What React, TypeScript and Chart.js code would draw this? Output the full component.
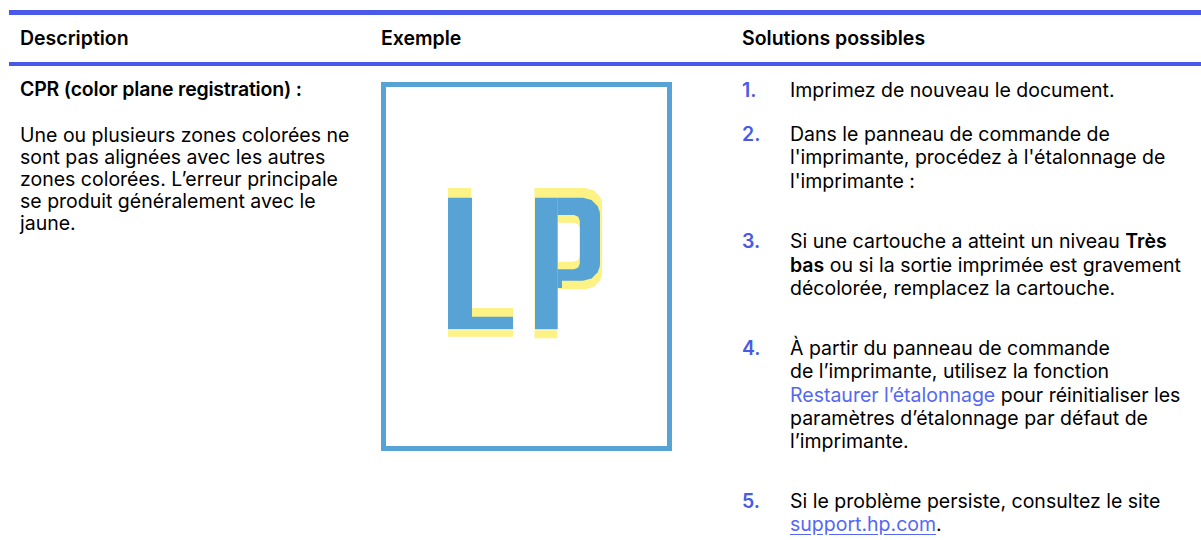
import React, { useEffect, useRef } from "react";
import { Chart, registerables } from "chart.js";

Chart.register(...registerables);

// ---------- colours ----------
const HP_BLUE = "#4a5ae8";
const LINK_BLUE = "#5468f2";
const FRAME_BLUE = "#57a3d5";
const INK_BLUE = "#57a3d5";
const INK_YELLOW = "#fdf285";

// ---------- table text ----------
const HEADER_LABELS = ["Description", "Exemple", "Solutions possibles"];
const ISSUE_TITLE = "CPR (color plane registration) :";
const ISSUE_LINES = [
  "Une ou plusieurs zones colorées ne",
  "sont pas alignées avec les autres",
  "zones colorées. L’erreur principale",
  "se produit généralement avec le",
  "jaune.",
];
type Seg = [string, "" | "b" | "link" | "u"];
const STEP_NUMBERS = ["1.", "2.", "3.", "4.", "5."];
const STEP_1: Seg[][] = [[["Imprimez de nouveau le document.", ""]]];
const STEP_2: Seg[][] = [
  [["Dans le panneau de commande de", ""]],
  [["l'imprimante, procédez à l'étalonnage de", ""]],
  [["l'imprimante :", ""]],
];
const STEP_3: Seg[][] = [
  [["Si une cartouche a atteint un niveau ", ""], ["Très", "b"]],
  [["bas", "b"], [" ou si la sortie imprimée est gravement", ""]],
  [["décolorée, remplacez la cartouche.", ""]],
];
const STEP_4: Seg[][] = [
  [["À partir du panneau de commande", ""]],
  [["de l’imprimante, utilisez la fonction", ""]],
  [["Restaurer l’étalonnage", "link"], [" pour réinitialiser les", ""]],
  [["paramètres d’étalonnage par défaut de", ""]],
  [["l’imprimante.", ""]],
];
const STEP_5: Seg[][] = [
  [["Si le problème persiste, consultez le site", ""]],
  [["support.hp.com", "u"], [".", ""]],
];
const STEPS = [STEP_1, STEP_2, STEP_3, STEP_4, STEP_5];

// ---------- example picture data (units of the example's own axes) ----------
const AXIS_X_MAX = 291;
const AXIS_Y_MAX = 369;

const FRAME_X = [2.5, 288.5, 288.5, 2.5, 2.5];
const FRAME_Y = [2.5, 2.5, 366.5, 366.5, 2.5];

// Letter "L" — yellow plane
const L_YEL_X = [67, 90, 90.01, 132];
const L_YEL_TOP = [106, 106, 226, 226];
const L_YEL_BOT = [247, 247, 247, 247];
const L_YEL_FOOT_X = [67, 132];
const L_YEL_FOOT_TOP = [248.3, 248.3];
const L_YEL_FOOT_BOT = [254.7, 254.7];
// Letter "L" — blue plane
const L_BLU_X = [67, 91, 91.01, 132];
const L_BLU_TOP = [115.7, 115.7, 234.7, 234.7];
const L_BLU_BOT = [247.2, 247.2, 247.2, 247.2];

// Letter "P" — yellow plane
const P_YEL_STEM_X = [153.3, 177];
const P_YEL_STEM_TOP = [106, 106];
const P_YEL_STEM_BOT = [247.2, 247.2];
const P_YEL_FOOT_X = [153.3, 176.5];
const P_YEL_FOOT_TOP = [248.3, 248.3];
const P_YEL_FOOT_BOT = [256.3, 256.3];
const P_YEL_UP_X = [176.5, 193, 197.2, 199.2];
const P_YEL_UP_TOP = [106, 106, 106, 106];
const P_YEL_UP_BOT = [140.7, 140.7, 142.5, 146.7];
const P_YEL_LOW_X = [176.5, 193, 197.2, 199.2];
const P_YEL_LOW_TOP = [179.7, 179.7, 177.9, 173.7];
const P_YEL_LOW_BOT = [207.3, 207.3, 207.3, 207.3];
const P_YEL_BOWL_X = [198.8, 204.3, 212.8, 219, 221, 221.3];
const P_YEL_BOWL_TOP = [106, 106, 108.3, 114.5, 120, 123];
const P_YEL_BOWL_BOT = [207.3, 207.3, 205, 198.8, 193.3, 190.3];

// Letter "P" — blue plane
const P_BLU_STEM_X = [154, 176.8];
const P_BLU_STEM_TOP = [115.7, 115.7];
const P_BLU_STEM_BOT = [247.2, 247.2];
const P_BLU_UP_X = [176.3, 193, 197.2, 199];
const P_BLU_UP_TOP = [115.7, 115.7, 115.7, 115.7];
const P_BLU_UP_BOT = [133, 133, 134.8, 139];
const P_BLU_LOW_X = [176.3, 181, 181.01, 193, 197.2, 199];
const P_BLU_LOW_TOP = [187.3, 187.3, 187.3, 187.3, 185.5, 181.3];
const P_BLU_LOW_BOT = [206, 206, 198.7, 198.7, 198.7, 198.7];
const P_BLU_BOWL_X = [198.6, 202, 210.5, 216.7, 218.7, 219];
const P_BLU_BOWL_TOP = [115.7, 115.7, 118, 124.2, 129.7, 132.7];
const P_BLU_BOWL_BOT = [198.7, 198.7, 196.4, 190.2, 184.7, 181.7];

type Shape = { xs: number[]; top: number[]; bot: number[]; color: string; layer: number };

const SHAPES: Shape[] = [
  { xs: L_YEL_X, top: L_YEL_TOP, bot: L_YEL_BOT, color: INK_YELLOW, layer: 3 },
  { xs: L_YEL_FOOT_X, top: L_YEL_FOOT_TOP, bot: L_YEL_FOOT_BOT, color: INK_YELLOW, layer: 3 },
  { xs: P_YEL_STEM_X, top: P_YEL_STEM_TOP, bot: P_YEL_STEM_BOT, color: INK_YELLOW, layer: 3 },
  { xs: P_YEL_FOOT_X, top: P_YEL_FOOT_TOP, bot: P_YEL_FOOT_BOT, color: INK_YELLOW, layer: 3 },
  { xs: P_YEL_UP_X, top: P_YEL_UP_TOP, bot: P_YEL_UP_BOT, color: INK_YELLOW, layer: 3 },
  { xs: P_YEL_LOW_X, top: P_YEL_LOW_TOP, bot: P_YEL_LOW_BOT, color: INK_YELLOW, layer: 3 },
  { xs: P_YEL_BOWL_X, top: P_YEL_BOWL_TOP, bot: P_YEL_BOWL_BOT, color: INK_YELLOW, layer: 3 },
  { xs: L_BLU_X, top: L_BLU_TOP, bot: L_BLU_BOT, color: INK_BLUE, layer: 2 },
  { xs: P_BLU_STEM_X, top: P_BLU_STEM_TOP, bot: P_BLU_STEM_BOT, color: INK_BLUE, layer: 2 },
  { xs: P_BLU_UP_X, top: P_BLU_UP_TOP, bot: P_BLU_UP_BOT, color: INK_BLUE, layer: 2 },
  { xs: P_BLU_LOW_X, top: P_BLU_LOW_TOP, bot: P_BLU_LOW_BOT, color: INK_BLUE, layer: 2 },
  { xs: P_BLU_BOWL_X, top: P_BLU_BOWL_TOP, bot: P_BLU_BOWL_BOT, color: INK_BLUE, layer: 2 },
];

function buildDatasets() {
  const ds: any[] = [];
  ds.push({
    label: "frame",
    data: FRAME_X.map((x, i) => ({ x, y: FRAME_Y[i] })),
    borderColor: FRAME_BLUE,
    borderWidth: 5,
    borderCapStyle: "square",
    borderJoinStyle: "miter",
    pointRadius: 0,
    fill: false,
    tension: 0,
    clip: false,
    order: 1,
  });
  SHAPES.forEach((s) => {
    const bottomIndex = ds.length;
    ds.push({
      data: s.xs.map((x, i) => ({ x, y: s.bot[i] })),
      borderColor: "rgba(0,0,0,0)",
      backgroundColor: "rgba(0,0,0,0)",
      borderWidth: 0,
      pointRadius: 0,
      fill: false,
      tension: 0,
      order: s.layer,
    });
    ds.push({
      data: s.xs.map((x, i) => ({ x, y: s.top[i] })),
      borderColor: "rgba(0,0,0,0)",
      backgroundColor: s.color,
      borderWidth: 0,
      pointRadius: 0,
      fill: bottomIndex,
      tension: 0,
      order: s.layer,
    });
  });
  return ds;
}

function ExampleChart() {
  const ref = useRef<HTMLCanvasElement | null>(null);
  useEffect(() => {
    if (!ref.current) return;
    const chart = new Chart(ref.current, {
      type: "line",
      data: { datasets: buildDatasets() },
      options: {
        animation: false,
        responsive: true,
        maintainAspectRatio: false,
        devicePixelRatio: 1,
        events: [],
        layout: { padding: 0 },
        plugins: { legend: { display: false }, tooltip: { enabled: false } },
        scales: {
          x: { type: "linear", min: 0, max: AXIS_X_MAX, display: false },
          y: { type: "linear", min: 0, max: AXIS_Y_MAX, reverse: true, display: false },
        },
      },
    });
    return () => chart.destroy();
  }, []);
  return (
    <div style={{ position: "absolute", left: 381, top: 82, width: AXIS_X_MAX, height: AXIS_Y_MAX }}>
      <canvas ref={ref} />
    </div>
  );
}

const FONT = "Inter, 'Noto Sans', sans-serif";
const FS = 19.5;
const LH = 24;
const ASC = 19.1; // baseline offset inside a LH line box

function Line({ x, baseline, children, weight = 400, color = "#000", spacing = 0 }: any) {
  return (
    <div
      style={{
        position: "absolute",
        left: x,
        top: baseline - ASC,
        height: LH,
        lineHeight: LH + "px",
        fontSize: FS,
        fontFamily: FONT,
        fontWeight: weight,
        letterSpacing: spacing,
        color,
        whiteSpace: "nowrap",
      }}
    >
      {children}
    </div>
  );
}

function renderSegs(segs: Seg[]) {
  return segs.map(([t, k], i) => {
    if (k === "b") return <span key={i} style={{ fontWeight: 600 }}>{t}</span>;
    if (k === "link") return <span key={i} style={{ color: LINK_BLUE }}>{t}</span>;
    if (k === "u")
      return (
        <span key={i} style={{ color: LINK_BLUE, textDecoration: "underline", textUnderlineOffset: 3 }}>
          {t}
        </span>
      );
    return <span key={i}>{t}</span>;
  });
}

export default function App() {
  const headerX = [20, 381, 742];
  const issueBase = 142;
  const issuePitch = 22;
  const stepPitch = 23.3;
  const stepStarts = [97, 141, 248.5, 355, 508];
  return (
    <div style={{ position: "absolute", left: 0, top: 0, width: 1201, height: 540, background: "#fff", overflow: "hidden" }}>
      <div style={{ position: "absolute", left: 9, top: 10, width: 1192, height: 5, background: HP_BLUE }} />
      <div style={{ position: "absolute", left: 9, top: 62, width: 1192, height: 3.5, background: HP_BLUE }} />
      {HEADER_LABELS.map((h, i) => (
        <Line key={h} x={headerX[i]} baseline={45} weight={600}>
          {h}
        </Line>
      ))}
      <Line x={20} baseline={96.5} weight={600} spacing={-0.2}>
        {ISSUE_TITLE}
      </Line>
      {ISSUE_LINES.map((t, i) => (
        <Line key={i} x={20} baseline={issueBase + i * issuePitch}>
          {t}
        </Line>
      ))}
      <ExampleChart />
      {STEPS.map((lines, si) => (
        <React.Fragment key={si}>
          <Line x={742} baseline={stepStarts[si]} weight={600} color={HP_BLUE}>
            {STEP_NUMBERS[si]}
          </Line>
          {lines.map((segs, li) => (
            <Line key={li} x={790} baseline={stepStarts[si] + li * stepPitch}>
              {renderSegs(segs)}
            </Line>
          ))}
        </React.Fragment>
      ))}
    </div>
  );
}
